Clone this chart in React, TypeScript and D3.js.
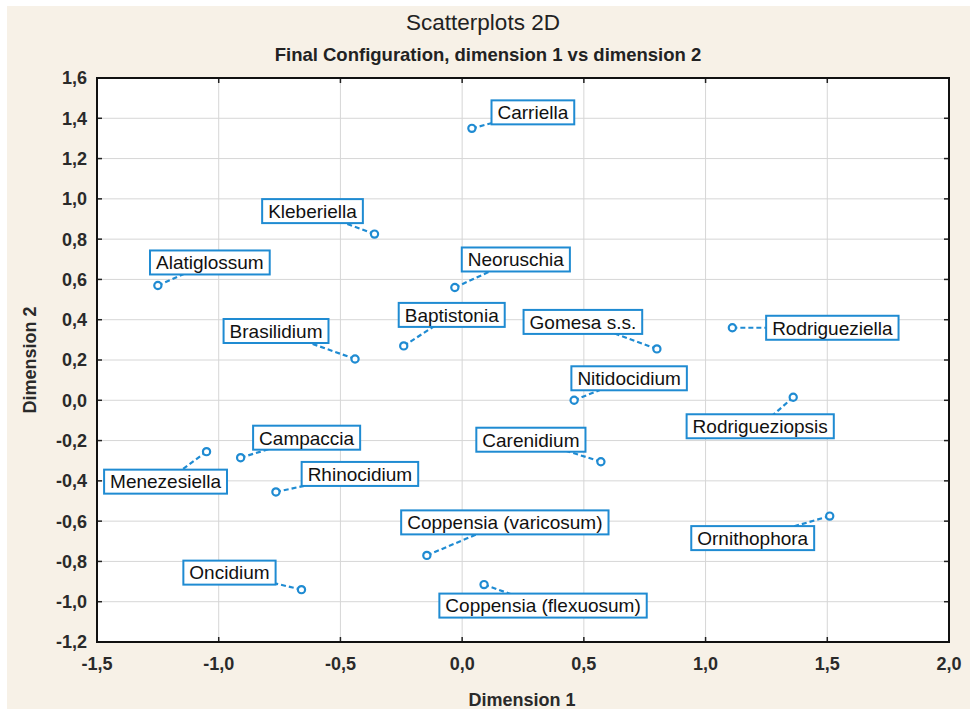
import React from "react";
import * as d3 from "d3";

// MDS final configuration (dimension 1 vs dimension 2)
const genera = [
  "Carriella",
  "Kleberiella",
  "Alatiglossum",
  "Neoruschia",
  "Baptistonia",
  "Brasilidium",
  "Gomesa s.s.",
  "Rodrigueziella",
  "Nitidocidium",
  "Rodrigueziopsis",
  "Carenidium",
  "Menezesiella",
  "Campaccia",
  "Rhinocidium",
  "Coppensia (varicosum)",
  "Ornithophora",
  "Oncidium",
  "Coppensia (flexuosum)",
];
const dim1 = [0.04, -0.36, -1.25, -0.03, -0.24, -0.44, 0.8, 1.11, 0.46, 1.36, 0.57, -1.05, -0.91, -0.765, -0.145, 1.51, -0.66, 0.09];
const dim2 = [1.35, 0.825, 0.57, 0.56, 0.27, 0.205, 0.255, 0.36, 0.0, 0.015, -0.305, -0.255, -0.285, -0.455, -0.77, -0.575, -0.94, -0.915];

// where each label box sits relative to its point (px)
const labelDx = [61, -62, 52, 61, 48, -79, -74, 100, 55, -33, -70, -41, 66, 84, 78, -77, -72, 59];
const labelDy = [-16, -23, -23, -28, -31, -28, -27, 0, -22, 29, -22, 30, -20, -18, -33, 22, -17, 21];

const xTicks = [-1.5, -1.0, -0.5, 0.0, 0.5, 1.0, 1.5, 2.0];
const yTicks = [-1.2, -1.0, -0.8, -0.6, -0.4, -0.2, 0.0, 0.2, 0.4, 0.6, 0.8, 1.0, 1.2, 1.4, 1.6];

const W = 970;
const H = 709;
const margin = { top: 78, right: 21, bottom: 67, left: 97 };
const blue = "#1f8bd2";
const FONT = "'Liberation Sans', Arial, sans-serif";
const labelFont = `19px ${FONT}`;

const locale = d3.formatLocale({
  decimal: ",",
  thousands: ".",
  grouping: [3],
  currency: ["", ""],
  minus: "-",
});
const fmt = locale.format(".1f");

const ctx = document.createElement("canvas").getContext("2d");
const textWidth = (s: string) => {
  if (!ctx) return s.length * 10;
  ctx.font = labelFont;
  return ctx.measureText(s).width;
};

const App = () => {
  const x = d3.scaleLinear().domain([-1.5, 2.0]).range([margin.left, W - margin.right]);
  const y = d3.scaleLinear().domain([-1.2, 1.6]).range([H - margin.bottom, margin.top]);
  const x0 = margin.left;
  const x1 = W - margin.right;
  const y0 = H - margin.bottom;
  const y1 = margin.top;

  const pts = genera.map((g, i) => {
    const px = x(dim1[i]);
    const py = y(dim2[i]);
    const cx = px + labelDx[i];
    const cy = py + labelDy[i];
    const w = textWidth(g) + 12;
    const h = 24;
    return { g, px, py, cx, cy, w, h };
  });

  return (
    <svg
      width={W}
      height={H}
      style={{ position: "absolute", left: 0, top: 0, display: "block" }}
    >
      <rect x={0} y={0} width={W} height={H} fill="#ffffff" />
      <rect x={7} y={6} width={W - 7} height={H - 6} fill="#f7f1e7" />
      <rect x={x0} y={y1} width={x1 - x0} height={y0 - y1} fill="#ffffff" />

      {/* grid */}
      {xTicks.map((t) => (
        <line key={"gx" + t} x1={x(t)} x2={x(t)} y1={y1} y2={y0} stroke="#d6d6d6" strokeWidth={1} />
      ))}
      {yTicks.map((t) => (
        <line key={"gy" + t} x1={x0} x2={x1} y1={y(t)} y2={y(t)} stroke="#d6d6d6" strokeWidth={1} />
      ))}

      {/* inner ticks */}
      {xTicks.map((t) => (
        <g key={"tx" + t}>
          <line x1={x(t)} x2={x(t)} y1={y0} y2={y0 - 5} stroke="#222" strokeWidth={1.5} />
          <line x1={x(t)} x2={x(t)} y1={y1} y2={y1 + 5} stroke="#222" strokeWidth={1.5} />
        </g>
      ))}
      {yTicks.map((t) => (
        <g key={"ty" + t}>
          <line x1={x0} x2={x0 + 5} y1={y(t)} y2={y(t)} stroke="#222" strokeWidth={1.5} />
          <line x1={x1} x2={x1 - 5} y1={y(t)} y2={y(t)} stroke="#222" strokeWidth={1.5} />
        </g>
      ))}
      <rect x={x0} y={y1} width={x1 - x0} height={y0 - y1} fill="none" stroke="#111" strokeWidth={2} />

      {/* tick labels */}
      {xTicks.map((t) => (
        <text
          key={"lx" + t}
          x={x(t)}
          y={670}
          textAnchor="middle"
          fontFamily={FONT}
          fontWeight="bold"
          fontSize={18}
          fill="#2a2a2a"
        >
          {fmt(t)}
        </text>
      ))}
      {yTicks.map((t) => (
        <text
          key={"ly" + t}
          x={x0 - 10}
          y={y(t)}
          dy="0.36em"
          textAnchor="end"
          fontFamily={FONT}
          fontWeight="bold"
          fontSize={18}
          fill="#2a2a2a"
        >
          {fmt(t)}
        </text>
      ))}

      {/* titles */}
      <text x={483} y={30} textAnchor="middle" fontFamily={FONT} fontSize={22.5} fill="#222">
        Scatterplots 2D
      </text>
      <text x={488} y={61} textAnchor="middle" fontFamily={FONT} fontWeight="bold" fontSize={18.5} fill="#222">
        Final Configuration, dimension 1 vs dimension 2
      </text>
      <text x={522} y={706} textAnchor="middle" fontFamily={FONT} fontWeight="bold" fontSize={18} fill="#2a2a2a">
        Dimension 1
      </text>
      <text
        transform={`translate(36,${(y0 + y1) / 2}) rotate(-90)`}
        textAnchor="middle"
        fontFamily={FONT}
        fontWeight="bold"
        fontSize={18}
        fill="#2a2a2a"
      >
        Dimension 2
      </text>

      {/* leader lines */}
      {pts.map((p) => (
        <line
          key={"ll" + p.g}
          x1={p.px}
          y1={p.py}
          x2={p.cx}
          y2={p.cy}
          stroke={blue}
          strokeWidth={2.2}
          strokeDasharray="5,3"
        />
      ))}

      {/* points */}
      {pts.map((p) => (
        <circle key={"pt" + p.g} cx={p.px} cy={p.py} r={3.6} fill="#ffffff" stroke={blue} strokeWidth={2.2} />
      ))}

      {/* labels */}
      {pts.map((p) => (
        <g key={"lb" + p.g}>
          <rect
            x={p.cx - p.w / 2}
            y={p.cy - p.h / 2}
            width={p.w}
            height={p.h}
            fill="#ffffff"
            stroke={blue}
            strokeWidth={2}
          />
          <text
            x={p.cx}
            y={p.cy}
            dy="0.36em"
            textAnchor="middle"
            fontFamily={FONT}
            fontSize={19}
            fill="#111"
          >
            {p.g}
          </text>
        </g>
      ))}
    </svg>
  );
};

export default App;
